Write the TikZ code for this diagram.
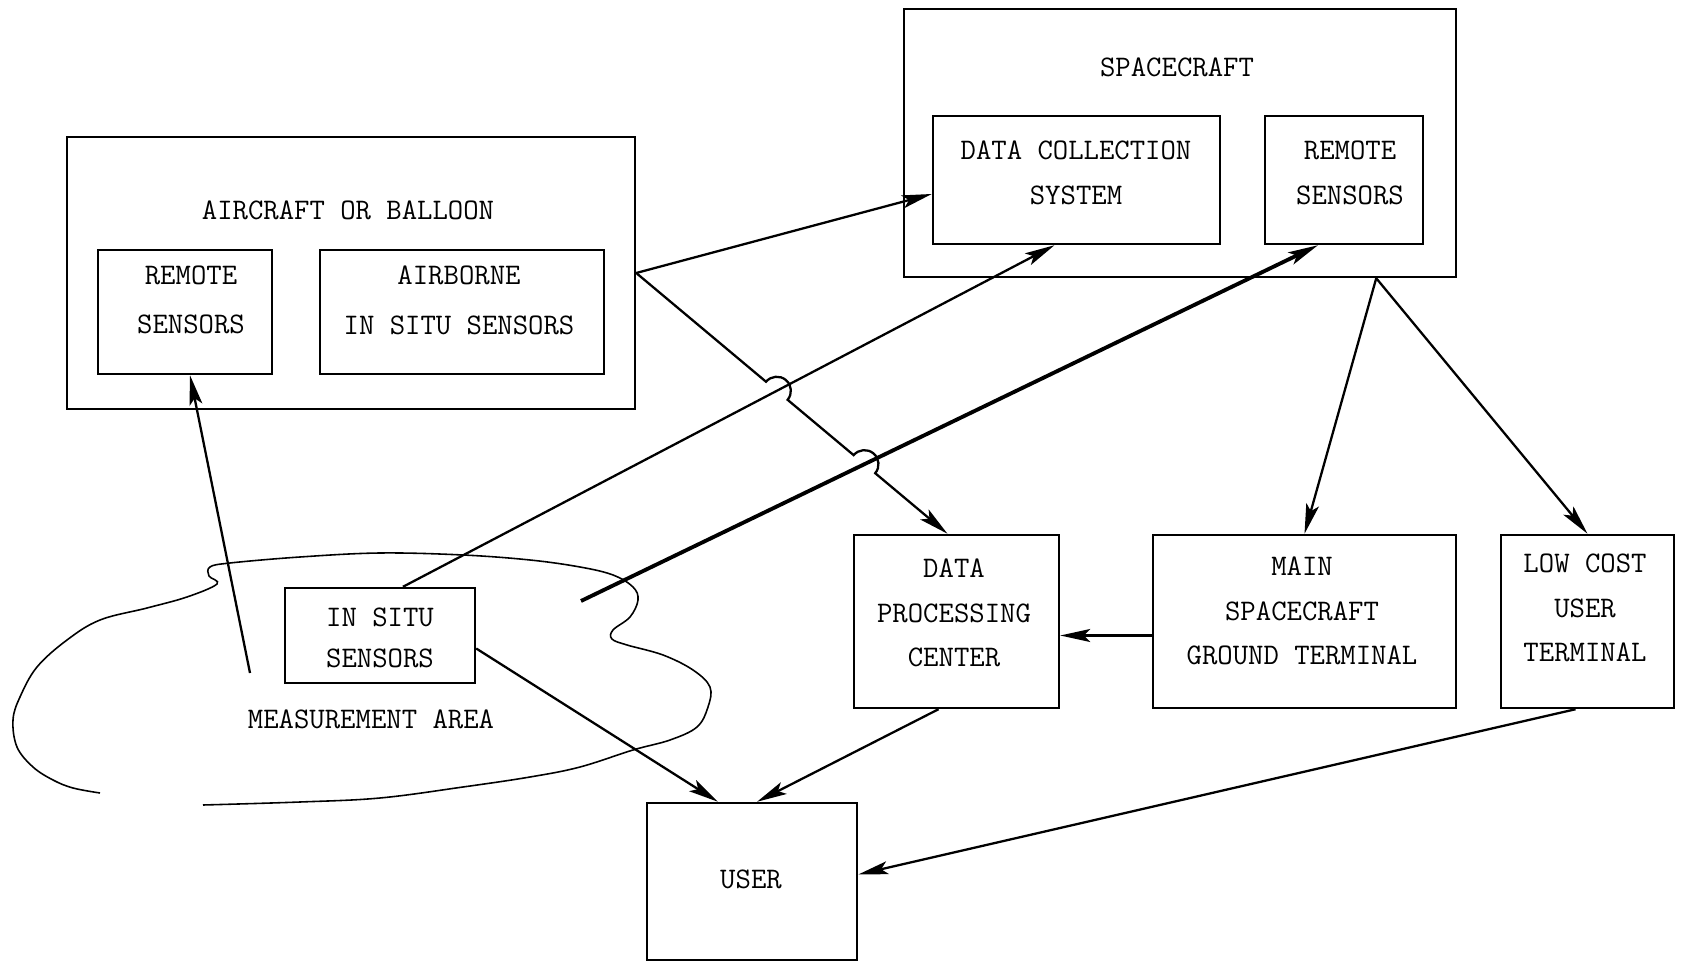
\documentclass[tikz,border=0pt]{standalone}
\usepackage{fontspec}
\usepackage{tikz}
\usetikzlibrary{arrows.meta,positioning,fit,calc,intersections}

\begin{document}
\begin{tikzpicture}[>={Stealth[length=6mm,width=2.6mm,inset=1.3mm]},x=0.02cm,y=-0.02cm,
  every node/.style={font=\ttfamily\fontsize{17}{25.5}\selectfont,align=center}]
  \useasboundingbox (0,0) rectangle (1687,962);

\tikzset{box/.style={draw,line width=1.4pt,inner sep=0pt}}
\tikzset{flow/.style={->,line width=1.3pt}}

  % boxes
  \node[box,fit={(904,9) (1456,277)}]    (SC)  {};
  \node[box,fit={(933,116) (1220,244)}]  (DCS) {};
  \node[box,fit={(1265,116) (1423,244)}] (SCR) {};
  \node[box,fit={(67,137) (635,409)}]    (AC)  {};
  \node[box,fit={(98,250) (272,374)}]    (ACR) {};
  \node[box,fit={(320,250) (604,374)}]   (AB)  {};
  \node[box,fit={(285,588) (475,683)}]   (IS)  {};
  \node[box,fit={(854,535) (1059,708)}]  (DPC) {};
  \node[box,fit={(1153,535) (1456,708)}] (MT)  {};
  \node[box,fit={(1501,535) (1674,708)}] (LC)  {};
  \node[box,fit={(647,803) (857,960)}]   (USR) {};

  % texts
  \node (SCtext)  at (1177,67)  {SPACECRAFT};
  \node (DCStext) at (1076,173) {DATA COLLECTION\\SYSTEM};
  \node (SCRtext) at (1350,173) {REMOTE\\SENSORS};
  \node (ACtext)  at (348,210)  {AIRCRAFT OR BALLOON};
  \node (ACRtext) at (191,300)  {REMOTE\\[2.8pt]SENSORS};
  \node (ABtext)  at (459,300)  {AIRBORNE\\[2.8pt]IN SITU SENSORS};
  \node (IStext)  at (380,638)  {IN SITU\\[-2.3pt]SENSORS};
  \node (DPCtext) at (954,613)  {DATA\\PROCESSING\\CENTER};
  \node (MTtext)  at (1302,611) {MAIN\\SPACECRAFT\\GROUND TERMINAL};
  \node (LCtext)  at (1585,608) {LOW COST\\USER\\TERMINAL};
  \node (USRtext) at (751,879)  {USER};
  \node (MAtext)  at (371,719)  {MEASUREMENT AREA};

  % measurement area
  \draw[line width=0.9pt] plot[smooth,tension=0.6] coordinates {
    (100,793) (73,788) (53,780) (33,767) (17,747) (13,720) (20,697) (37,667)
    (67,640) (100,620) (147,608) (187,597) (217,584) (209,576) (210,567)
    (230,563) (300,557) (380,553) (463,555) (530,560) (580,567) (613,575)
    (633,587) (638,600) (630,617) (613,630) (612,639) (627,645) (663,655)
    (693,670) (710,687) (708,707) (697,727) (670,740) (633,750) (580,767)
    (530,777) (463,787) (380,798) (300,802) (203,805)};

  \coordinate (fieldA) at (250,673);
  \coordinate (fieldB) at (581,601);

  % connectors
  \draw[flow,name path=insitu] ($(IS.north)+(23,0)$) -- ($(DCS.south)+(-22,0)$);
  \draw[flow,line width=2.2pt,name path=field] (fieldB) -- ($(SCR.south)+(-26,0)$);
  \path[name path=hopline] (AC.east) -- ($(DPC.north)+(-9,0)$);
  \path[name intersections={of=hopline and insitu,by=X1}];
  \path[name intersections={of=hopline and field,by=X2}];
  \draw[flow] let \p1=($(DPC.north)+(-9,0)-(AC.east)$), \n1={atan2(\y1,\x1)} in
    (AC.east) -- ($(X1)!8pt!(AC.east)$) arc[start angle=\n1+180,end angle=\n1,radius=8pt]
    -- ($(X2)!8pt!(AC.east)$) arc[start angle=\n1+180,end angle=\n1,radius=8pt]
    -- ($(DPC.north)+(-9,0)$);

  \path (AC.east)  edge[flow] ($(DCS.west)+(0,14)$)
        (fieldA)   edge[flow] ($(ACR.south)+(5,0)$)
        ($(SC.south east)+(-81,0)$) edge[flow] (MT.north)
        ($(SC.south east)+(-81,0)$) edge[flow] (LC.north)
        ($(MT.west)+(0,14)$) edge[flow] ($(DPC.east)+(0,14)$)
        ($(IS.east)+(0,13)$) edge[flow] ($(USR.north)+(-34,0)$)
        ($(DPC.south)+(-18,0)$) edge[flow] ($(USR.north)+(5,0)$)
        ($(LC.south)+(-12,0)$) edge[flow] ($(USR.east)+(0,-7)$);
\end{tikzpicture}
\end{document}
